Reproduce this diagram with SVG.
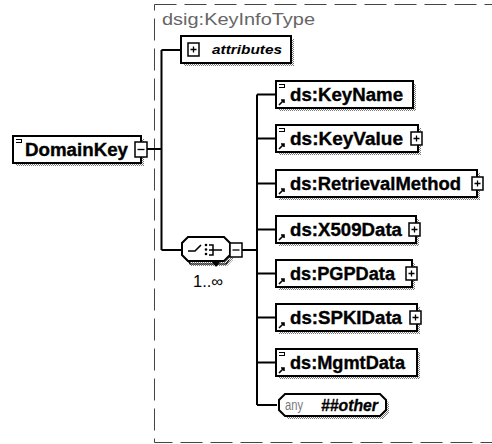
<svg xmlns="http://www.w3.org/2000/svg" width="492" height="444" viewBox="0 0 492 444">
<style>
.box{fill:#fff;stroke:#000;stroke-width:2}
.sh{fill:url(#dots)}
.btn{fill:#fff;stroke:#000;stroke-width:1.5}
.ln{stroke:#000;stroke-width:2;fill:none}
.thin{stroke:#000;stroke-width:1.2;fill:none}
.el{font-family:"Liberation Sans",Arial,sans-serif;font-weight:bold;font-size:18px;fill:#000;stroke:#000;stroke-width:0.35}
</style>
<defs>
<pattern id="dots" width="2" height="2" patternUnits="userSpaceOnUse"><rect width="1" height="1" fill="#777"/><rect x="1" y="1" width="1" height="1" fill="#777"/></pattern>
<g id="ico-c" shape-rendering="crispEdges"><path d="M3 3.5h6M3 6.5h6M8 3v4" stroke="#000" stroke-width="1"/></g>
<g id="ico-r"><path d="M3 24l5-5M5 19h3v3" stroke="#000" stroke-width="1.6" fill="none"/></g>
<g id="plus"><rect class="btn" x="0" y="0" width="11" height="13"/><path d="M2.5 6.5h6M5.5 3.5v6" stroke="#000" stroke-width="1.3"/></g>
</defs>

<rect x="154.5" y="4.5" width="360" height="438" fill="none" stroke="#444" stroke-width="1" stroke-dasharray="22 8"/>
<text x="162" y="25" font-family="Liberation Sans,Arial,sans-serif" font-size="16" fill="#666" textLength="153" lengthAdjust="spacingAndGlyphs">dsig:KeyInfoType</text>

<g id="connectors">
<path class="ln" d="M147 149H161.5M161.5 50V250M161.5 50H181M161.5 250H182"/>
<path class="ln" d="M242 250H257M257 94.5V405M257 94.5H276M257 138.5H276M257 183.5H276M257 229.5H276M257 273.5H276M257 317.5H276M257 362.5H276M257 405H277"/>
</g>

<g id="DomainKey">
<rect class="sh" x="16" y="139" width="128" height="27"/>
<rect class="box" x="13" y="136" width="128" height="27"/>
<use href="#ico-c" x="13" y="136"/>
<text class="el" x="25" y="156" textLength="103" lengthAdjust="spacingAndGlyphs">DomainKey</text>
<rect class="btn" x="135" y="142" width="12" height="15"/>
<path d="M137.5 149.5h7" stroke="#000" stroke-width="1.3"/>
</g>

<g id="attributes">
<rect class="sh" x="184" y="39" width="110" height="27"/>
<rect class="box" x="181" y="36" width="110" height="27"/>
<use href="#plus" x="188" y="43"/>
<text x="212" y="54" font-family="Liberation Sans,Arial,sans-serif" font-weight="bold" font-style="italic" font-size="13" textLength="70" lengthAdjust="spacingAndGlyphs">attributes</text>
</g>

<g id="choice">
<polygon points="191,242 227,242 233,248 233,260 227,266 191,266 185,260 185,248" fill="url(#dots)"/>
<path class="thin" d="M188 258L190 264H226L229 260"/>
<path d="M212 262l4 5l4-5z" fill="#000"/>
<polygon class="box" points="188,237 224,237 230,243 230,255 224,261 188,261 182,255 182,243"/>
<path d="M188 251h7l6-6" stroke="#000" stroke-width="1.6" fill="none"/>
<circle cx="206" cy="245" r="1.3"/><circle cx="206" cy="249.5" r="1.3"/><circle cx="206" cy="254" r="1.3"/>
<path d="M209 245h4v10h-4M213 250h9M209 250h4" stroke="#000" stroke-width="1.5" fill="none"/>
<rect class="btn" x="230" y="243" width="12" height="14"/>
<path d="M232.5 250h7" stroke="#000" stroke-width="1.3"/>
<text x="193" y="287" font-family="Liberation Sans,Arial,sans-serif" font-size="16" textLength="30" lengthAdjust="spacingAndGlyphs">1..∞</text>
</g>

<g id="KeyName">
<rect class="sh" x="279" y="84" width="137" height="27"/>
<rect class="box" x="276" y="81" width="137" height="27"/>
<use href="#ico-c" x="276" y="81"/><use href="#ico-r" x="276" y="81"/>
<text class="el" x="290" y="101" textLength="113" lengthAdjust="spacingAndGlyphs">ds:KeyName</text>
</g>

<g id="KeyValue">
<rect class="sh" x="279" y="128" width="142" height="27"/>
<rect class="box" x="276" y="125" width="142" height="27"/>
<use href="#ico-c" x="276" y="125"/><use href="#ico-r" x="276" y="125"/>
<text class="el" x="290" y="145" textLength="113" lengthAdjust="spacingAndGlyphs">ds:KeyValue</text>
<use href="#plus" x="411" y="132"/>
</g>

<g id="RetrievalMethod">
<rect class="sh" x="279" y="173" width="201" height="27"/>
<rect class="box" x="276" y="170" width="201" height="27"/>
<use href="#ico-r" x="276" y="170"/>
<text class="el" x="290" y="190" textLength="171" lengthAdjust="spacingAndGlyphs">ds:RetrievalMethod</text>
<use href="#plus" x="472" y="177"/>
</g>

<g id="X509Data">
<rect class="sh" x="279" y="219" width="140" height="27"/>
<rect class="box" x="276" y="216" width="140" height="27"/>
<use href="#ico-r" x="276" y="216"/>
<text class="el" x="290" y="236" textLength="112" lengthAdjust="spacingAndGlyphs">ds:X509Data</text>
<use href="#plus" x="409" y="223"/>
</g>

<g id="PGPData">
<rect class="sh" x="279" y="263" width="136" height="27"/>
<rect class="box" x="276" y="260" width="136" height="27"/>
<use href="#ico-r" x="276" y="260"/>
<text class="el" x="290" y="280" textLength="105" lengthAdjust="spacingAndGlyphs">ds:PGPData</text>
<use href="#plus" x="406" y="267"/>
</g>

<g id="SPKIData">
<rect class="sh" x="279" y="307" width="141" height="27"/>
<rect class="box" x="276" y="304" width="141" height="27"/>
<use href="#ico-r" x="276" y="304"/>
<text class="el" x="290" y="324" textLength="112" lengthAdjust="spacingAndGlyphs">ds:SPKIData</text>
<use href="#plus" x="410" y="311"/>
</g>

<g id="MgmtData">
<rect class="sh" x="279" y="352" width="141" height="27"/>
<rect class="box" x="276" y="349" width="141" height="27"/>
<use href="#ico-c" x="276" y="349"/><use href="#ico-r" x="276" y="349"/>
<text class="el" x="290" y="369" textLength="115" lengthAdjust="spacingAndGlyphs">ds:MgmtData</text>
</g>

<g id="any">
<path class="sh" d="M288 397H383L389 403V413L383 419H288L282 413V403Z"/>
<path class="box" d="M285 394H380L386 400V410L380 416H285L279 410V400Z"/>
<text x="285" y="410" font-family="Liberation Sans,Arial,sans-serif" font-size="14" fill="#777" textLength="18" lengthAdjust="spacingAndGlyphs">any</text>
<text x="321" y="411" font-family="Liberation Sans,Arial,sans-serif" font-weight="bold" font-style="italic" font-size="17" stroke="#000" stroke-width="0.3" textLength="57" lengthAdjust="spacingAndGlyphs">##other</text>
</g>
</svg>
